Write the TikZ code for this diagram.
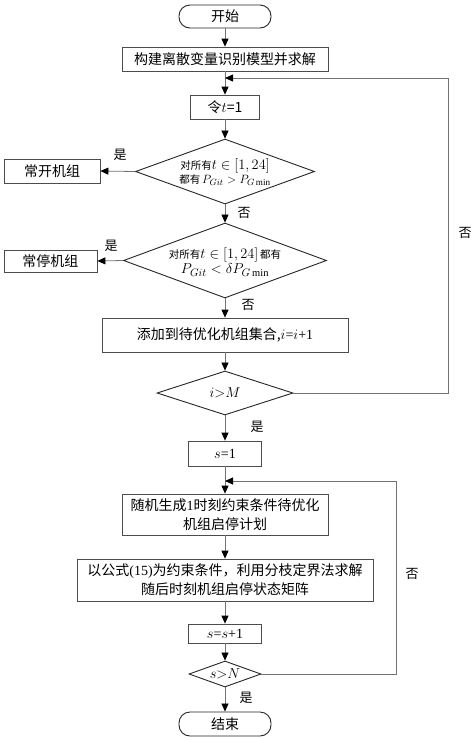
\documentclass[tikz,border=0pt]{standalone}
\usepackage{fontspec}
\setmainfont{Liberation Serif}
\newfontfamily\cjk{Noto Sans CJK SC}
\usetikzlibrary{shapes.geometric,arrows.meta}
\tikzset{
  box/.style={draw=black!70, line width=0.8pt, rectangle, inner sep=0pt, align=center, font=\fontsize{14}{18}\selectfont\cjk},
  term/.style={draw=black!85, line width=0.9pt, rectangle, rounded corners=11pt, inner sep=0pt, font=\fontsize{14}{18}\selectfont\cjk},
  dia/.style={draw=black!85, line width=0.9pt, diamond, inner sep=0pt},
  conn/.style={draw=black!55, line width=0.8pt},
  arr/.style={conn, -{Triangle[length=8pt,width=7pt,fill=black,color=black]}},
  lab/.style={font=\fontsize{13}{15}\selectfont\cjk, inner sep=0pt},
  dtext/.style={align=center, inner sep=0pt}
}
\begin{document}
\begin{tikzpicture}[x=1pt,y=-1pt]
\useasboundingbox (0,0) rectangle (474,740);
\fill[white] (0,0) rectangle (474,740);
% nodes
\node[term, minimum width=92pt, minimum height=23pt] (start) at (225,16.5) {开始};
\node[box, minimum width=206pt, minimum height=24pt] (b1) at (225,59) {构建离散变量识别模型并求解};
\coordinate (m1) at (225,78);
\node[box, minimum width=69pt, minimum height=24pt] (b2) at (225,107) {{\cjk 令}$t$=1};
\node[dia, minimum width=179pt, minimum height=65pt] (d1) at (225,171.5) {};
\node[dtext] (d1t) at (225,172) {{\fontsize{10.5}{12}\selectfont\cjk 对所有}{\fontsize{14}{16}\selectfont$t\in[1,24]$}\\[0pt]
  {\fontsize{10.5}{12}\selectfont\cjk 都有}\,{\fontsize{13}{16}\selectfont$P_{Git}>P_{G\min}$}};
\node[box, minimum width=96pt, minimum height=24pt] (on) at (52,171) {常开机组};
\node[dia, minimum width=203pt, minimum height=75pt] (d2) at (225,260.5) {};
\node[dtext] (d2t) at (225,262) {{\fontsize{10.5}{12}\selectfont\cjk 对所有}{\fontsize{14}{16}\selectfont$t\in[1,24]$}\,{\fontsize{10.5}{12}\selectfont\cjk 都有}\\[1pt]
  {\fontsize{15}{17}\selectfont$P_{Git}<\delta P_{G\min}$}};
\node[box, minimum width=93pt, minimum height=22pt] (off) at (50.5,261) {常停机组};
\node[box, minimum width=246pt, minimum height=34pt] (b3) at (225,335) {添加到待优化机组集合,{\rmfamily$i$=$i$+1}};
\node[dia, minimum width=136pt, minimum height=44pt] (d3) at (225,393) {};
\node[dtext, font=\fontsize{14}{16}\selectfont] (d3t) at (225,393) {$i{>}M$};
\node[box, minimum width=73pt, minimum height=25pt] (s1) at (225,453.5) {\rmfamily$s$=1};
\coordinate (m2) at (225,481);
\node[box, minimum width=206pt, minimum height=41pt, font=\fontsize{14}{19}\selectfont\cjk] (b4) at (225,514.5) {随机生成{\rmfamily 1}时刻约束条件待优化\\机组启停计划};
\node[box, minimum width=296pt, minimum height=42pt, font=\fontsize{14}{19}\selectfont\cjk] (b5) at (225,580) {以公式{\rmfamily(15)}为约束条件，利用分枝定界法求解\\随后时刻机组启停状态矩阵};
\node[box, minimum width=73pt, minimum height=19pt] (b6) at (225,633.5) {\rmfamily$s$=$s$+1};
\node[dia, minimum width=72pt, minimum height=26pt] (d4) at (225,674) {};
\node[dtext, font=\fontsize{14}{16}\selectfont] (d4t) at (225,674) {$s{>}N$};
\node[term, minimum width=92pt, minimum height=24pt] (end) at (225,724) {结束};
\coordinate (r1) at (448,393);
\coordinate (r1t) at (448,78);
\coordinate (r2) at (396,674);
\coordinate (r2t) at (396,481);
% connectors
\draw[arr] (start) -- (b1);
\draw[conn] (b1) -- (m1);
\draw[arr] (m1) -- (b2);
\draw[arr] (b2) -- (d1);
\draw[arr] (d1.west) -- (on.east);
\node[lab] (y1) at (120,155) {是};
\draw[arr] (d1.south) -- (d2.north);
\node[lab] (n1) at (244,213) {否};
\draw[arr] (d2.west) -- (off.east);
\node[lab] (y2) at (111,246) {是};
\draw[arr] (d2.south) -- (b3.north);
\node[lab] (n2) at (248,305) {否};
\draw[arr] (b3) -- (d3);
\draw[arr] (d3.east) -- (r1) -- (r1t) -- (m1);
\node[lab] (n3) at (465,233) {否};
\draw[arr] (d3.south) -- (s1.north);
\node[lab] (y3) at (257,427) {是};
\draw[conn] (s1) -- (m2);
\draw[arr] (m2) -- (b4);
\draw[arr] (b4) -- (b5);
\draw[arr] (b5) -- (b6);
\draw[arr] (b6) -- (d4);
\draw[arr] (d4.east) -- (r2) -- (r2t) -- (m2);
\node[lab] (n4) at (412,574) {否};
\draw[arr] (d4.south) -- (end.north);
\node[lab] (y4) at (246,698) {是};
\end{tikzpicture}
\end{document}
